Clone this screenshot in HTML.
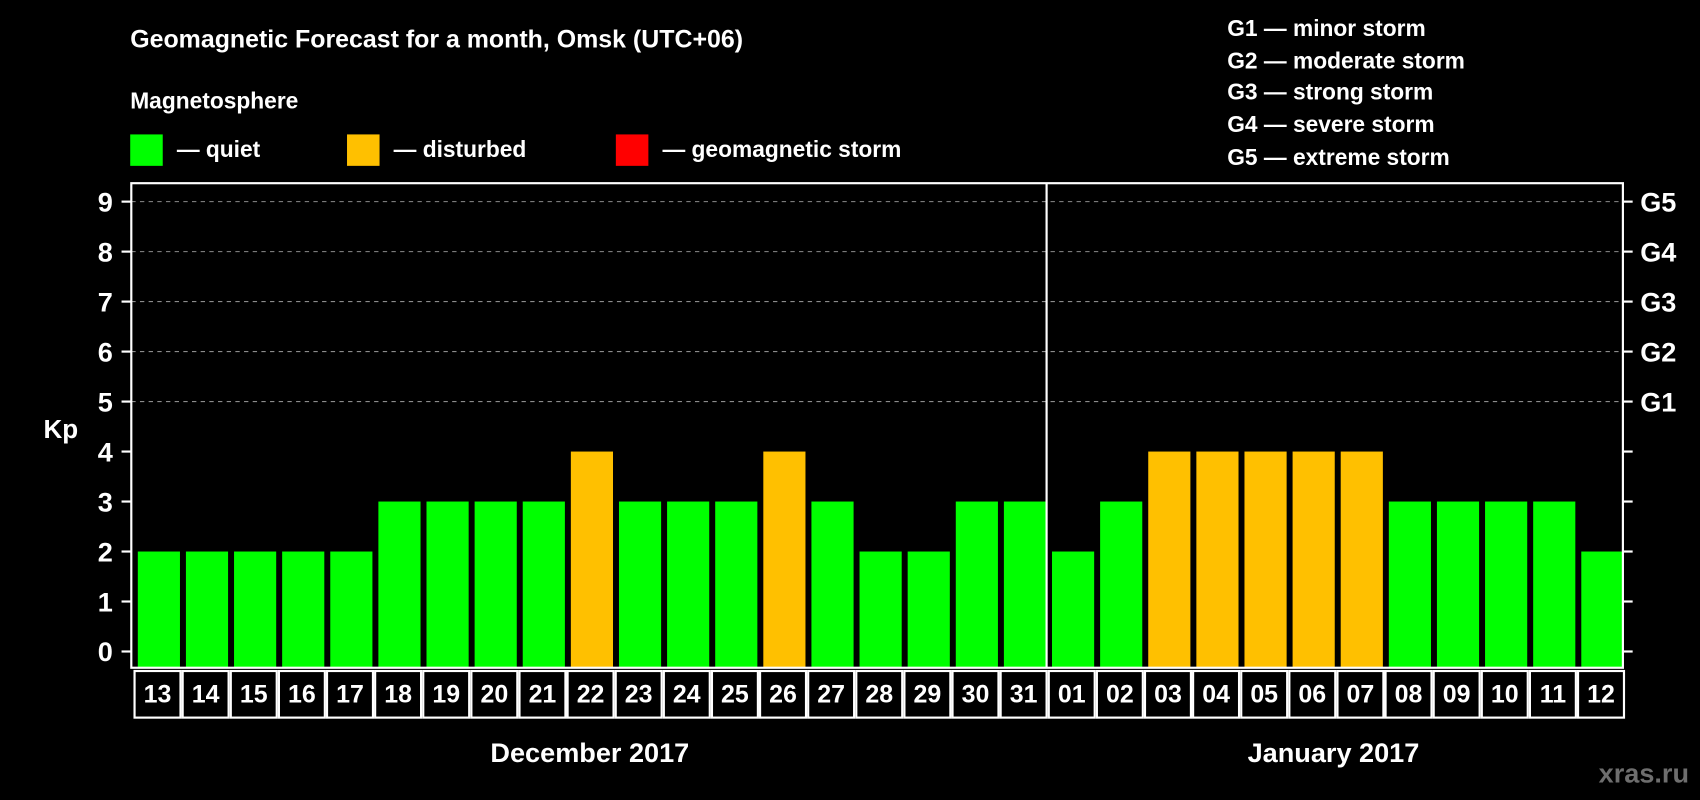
<!DOCTYPE html>
<html><head><meta charset="utf-8"><style>
html,body{margin:0;padding:0;background:#000;width:1700px;height:800px;overflow:hidden}
svg{display:block}
text{font-family:"Liberation Sans",Arial,sans-serif;font-weight:bold;fill:#fff}
</style></head><body>
<svg id="chart" width="1700" height="800" viewBox="0 0 1568 738" xmlns="http://www.w3.org/2000/svg">
<rect width="1568" height="738" fill="#000"/>
<text x="120" y="44" font-size="23">Geomagnetic Forecast for a month, Omsk (UTC+06)</text>
<text x="120" y="100" font-size="21">Magnetosphere</text>
<g><rect x="120" y="124" width="30" height="29" fill="#00ff00"/><text x="163" y="145" font-size="21">— quiet</text></g>
<g><rect x="320" y="124" width="30" height="29" fill="#ffc000"/><text x="363" y="145" font-size="21">— disturbed</text></g>
<g><rect x="568" y="124" width="30" height="29" fill="#ff0000"/><text x="611" y="145" font-size="21">— geomagnetic storm</text></g>
<g font-size="21">
<text x="1132" y="33">G1 — minor storm</text>
<text x="1132" y="63">G2 — moderate storm</text>
<text x="1132" y="92">G3 — strong storm</text>
<text x="1132" y="122">G4 — severe storm</text>
<text x="1132" y="152">G5 — extreme storm</text>
</g>
<text x="40" y="404" font-size="24">Kp</text>
<g id="grid"></g>
<g id="bars"></g>
<g id="axes"></g>
<text x="544" y="703" font-size="25" text-anchor="middle">December 2017</text>
<text x="1230" y="703" font-size="25" text-anchor="middle">January 2017</text>
<text x="1558" y="722" font-size="25" text-anchor="end" style="fill:#6e6e6e">xras.ru</text>
</svg>
<script>
const days = ["13","14","15","16","17","18","19","20","21","22","23","24","25","26","27","28","29","30","31","01","02","03","04","05","06","07","08","09","10","11","12"];
const kpValues = [2,2,2,2,2,3,3,3,3,4,3,3,3,4,3,2,2,3,3,2,3,4,4,4,4,4,3,3,3,3,2];
const yTicks = [0,1,2,3,4,5,6,7,8,9];
const gLabels = ["G1","G2","G3","G4","G5"];
const gLevels = [5,6,7,8,9];
const monthBreak = 19;

const NS = "http://www.w3.org/2000/svg";
const L = 121, R = 1497, T = 169, B = 616;
const y0 = 601, unit = (601 - 186) / 9;
const slot = (R - L) / days.length;
const yScale = v => y0 - v * unit;
const xScale = i => L + i * slot;
function mk(tag, attrs, parent) {
  const e = document.createElementNS(NS, tag);
  for (const k in attrs) e.setAttribute(k, attrs[k]);
  parent.appendChild(e); return e;
}
const grid = document.getElementById('grid');
const bars = document.getElementById('bars');
const axes = document.getElementById('axes');

yTicks.forEach(v => {
  if (v >= 5) {
    const g = mk('line', {x1: L, x2: R, y1: yScale(v), y2: yScale(v), stroke: '#8c8c8c', 'stroke-width': 1, 'stroke-dasharray': '4,4'}, grid);
    
    
  }
  const tl = mk('line', {x1: L - 9, x2: L, y1: yScale(v), y2: yScale(v), stroke: '#fff', 'stroke-width': 2}, axes);
  
  
  const tr = mk('line', {x1: R, x2: R + 9, y1: yScale(v), y2: yScale(v), stroke: '#fff', 'stroke-width': 2}, axes);
  
  
  const t = mk('text', {x: 97, y: yScale(v) + 9, 'font-size': 25, 'text-anchor': 'middle'}, axes);
  t.textContent = v;
  
  
});
gLabels.forEach((g, i) => {
  const t = mk('text', {x: 1513, y: yScale(gLevels[i]) + 9, 'font-size': 25}, axes);
  t.textContent = g;
  
  
});

kpValues.forEach((v, i) => {
  const col = v >= 5 ? '#ff0000' : (v >= 4 ? '#ffc000' : '#00ff00');
  const b = mk('rect', {x: xScale(i) + 6, y: yScale(v), width: slot - 5.5, height: B - yScale(v), fill: col}, bars);
  
  
  const c = mk('rect', {x: xScale(i) + 3, y: B + 3, width: slot - 2, height: 43, fill: 'none', stroke: '#fff', 'stroke-width': 2}, axes);
  
  
  const t = mk('text', {x: xScale(i) + slot / 2 + 2, y: B + 32, 'font-size': 23, 'text-anchor': 'middle'}, axes);
  t.textContent = days[i];
  
  
});

const frame = mk('rect', {x: L, y: T, width: R - L, height: B - T, fill: 'none', stroke: '#fff', 'stroke-width': 2}, axes);


const sep = mk('line', {x1: xScale(monthBreak) + 1, x2: xScale(monthBreak) + 1, y1: T, y2: B, stroke: '#fff', 'stroke-width': 2}, axes);


</script>
</body></html>
